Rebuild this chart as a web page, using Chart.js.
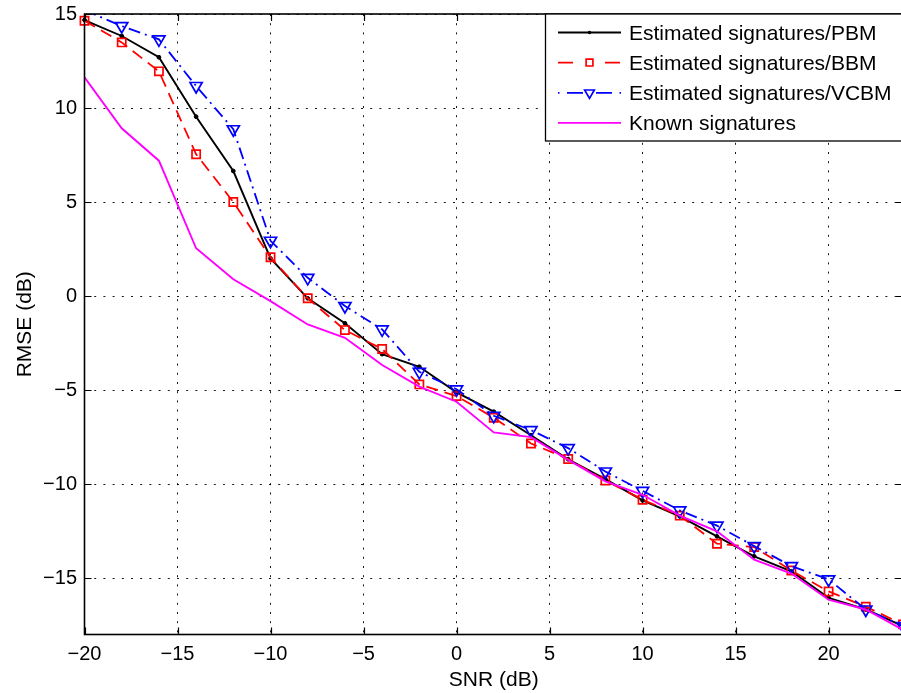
<!DOCTYPE html>
<html>
<head>
<meta charset="utf-8">
<script src="https://cdn.jsdelivr.net/npm/chart.js@4.4.1/dist/chart.umd.min.js"></script>
<style>
  html, body { margin: 0; padding: 0; background: #fff; overflow: hidden; width: 901px; height: 693px; }
  canvas { display: block; }
</style>
</head>
<body>
<canvas id="c" width="905" height="693"></canvas>
<script>
// SNR values (dB)
const snr = [-20, -18, -16, -14, -12, -10, -8, -6, -4, -2, 0, 2, 4, 6, 8, 10, 12, 14, 16, 18, 20, 22, 24];

// RMSE (dB) per method
const pbm = [14.68, 13.83, 12.70, 9.54, 6.65, 2.00, -0.12, -1.45, -3.09, -3.76, -5.12, -6.15, -7.40,
             -8.68, -9.74, -10.87, -11.72, -12.78, -13.84, -14.64, -16.05, -16.67, -17.55];
const bbm = [14.64, 13.49, 11.95, 7.54, 5.00, 2.06, -0.12, -1.81, -2.82, -4.70, -5.32, -6.47, -7.84,
             -8.67, -9.81, -10.83, -11.68, -13.17, -13.35, -14.60, -15.71, -16.52, -17.46];
const vcbm = [15.20, 14.36, 13.65, 11.17, 8.87, 2.94, 0.97, -0.53, -1.77, -4.03, -4.96, -6.37, -7.13,
              -8.09, -9.33, -10.36, -11.40, -12.21, -13.30, -14.36, -15.07, -16.67, -17.55];
const known = [11.63, 8.92, 7.20, 2.54, 0.89, -0.27, -1.51, -2.22, -3.67, -4.82, -5.62, -7.25, -7.50,
               -8.71, -9.86, -10.57, -11.68, -12.51, -14.02, -14.76, -16.15, -16.67, -17.75];

const seriesNames = ['Estimated signatures/PBM', 'Estimated signatures/BBM',
                     'Estimated signatures/VCBM', 'Known signatures'];

const xTicks = { min: -20, max: 24, step: 5 };
const yTicks = { min: -18, max: 15, step: 5 };

const FONT = "'Liberation Sans', Arial, Helvetica, sans-serif";
const pts = arr => snr.map((s, i) => ({ x: s, y: arr[i] }));
const minus = v => String(v).replace('-', '\u2212');

// marker used in the legend samples (same shapes as the plotted points)
function drawMarker(ctx, style, x, y, r, rot) {
  ctx.beginPath();
  if (style === 'circle') {
    ctx.arc(x, y, r, 0, Math.PI * 2);
    ctx.fill();
  } else if (style === 'rect') {
    const s = r * Math.SQRT1_2;
    ctx.rect(x - s, y - s, 2 * s, 2 * s);
    ctx.stroke();
  } else if (style === 'triangle') {
    const a = (rot || 0) * Math.PI / 180;
    for (let k = 0; k < 3; k++) {
      const t = a - Math.PI / 2 + k * 2 * Math.PI / 3;
      const px = x + r * Math.cos(t), py = y + r * Math.sin(t);
      if (k === 0) ctx.moveTo(px, py); else ctx.lineTo(px, py);
    }
    ctx.closePath();
    ctx.stroke();
  }
}

// axes box with inward tick marks on all four sides
const frame = {
  id: 'frame',
  afterDatasetsDraw(chart) {
    const { ctx, chartArea: a, scales: { x, y } } = chart;
    ctx.save();
    ctx.setLineDash([]);
    ctx.strokeStyle = '#000';
    ctx.lineWidth = 1.2;
    ctx.beginPath();
    x.ticks.forEach(t => {
      const p = Math.round(x.getPixelForValue(t.value)) + 0.5;
      ctx.moveTo(p, a.bottom); ctx.lineTo(p, a.bottom - 7);
      ctx.moveTo(p, a.top); ctx.lineTo(p, a.top + 7);
    });
    y.ticks.forEach(t => {
      const p = Math.round(y.getPixelForValue(t.value)) + 0.5;
      ctx.moveTo(a.left, p); ctx.lineTo(a.left + 7, p);
      ctx.moveTo(a.right, p); ctx.lineTo(a.right - 7, p);
    });
    ctx.stroke();
    ctx.lineWidth = 1.6;
    ctx.strokeRect(a.left, a.top, a.right - a.left, a.bottom - a.top);
    ctx.restore();
  }
};

// legend box in the upper right corner of the axes
const legendBox = {
  id: 'legendBox',
  afterDatasetsDraw(chart) {
    const ctx = chart.ctx;
    const a = chart.chartArea;
    const left = 545, top = a.top, bottom = 141;
    ctx.save();
    ctx.fillStyle = '#fff';
    ctx.fillRect(left, top, a.right - left + 10, bottom - top);
    ctx.strokeStyle = '#000';
    ctx.lineWidth = 1.3;
    ctx.strokeRect(left + 0.5, top, a.right - left + 10, bottom - top);

    const rowY = [32.5, 62.6, 92.8, 122.9];
    const x0 = 558, x1 = 621, xm = 589.5;
    chart.data.datasets.forEach((ds, row) => {
      const yy = rowY[row];
      ctx.strokeStyle = ds.borderColor;
      ctx.fillStyle = ds.borderColor;
      ctx.lineWidth = ds.borderWidth;
      ctx.setLineDash(ds.legendDash || []);
      ctx.lineDashOffset = 0;
      ctx.beginPath();
      ctx.moveTo(x0, yy); ctx.lineTo(x1, yy);
      ctx.stroke();
      ctx.setLineDash([]);
      if (ds.pointStyle && ds.legendMarker !== false) {
        ctx.lineWidth = ds.pointBorderWidth || 1;
        drawMarker(ctx, ds.pointStyle, xm, yy, ds.legendRadius, ds.pointRotation);
      }
      ctx.fillStyle = '#000';
      ctx.font = '21px ' + FONT;
      ctx.textAlign = 'left';
      ctx.textBaseline = 'alphabetic';
      ctx.fillText(ds.label, 629, yy + 7.5);
    });
    ctx.restore();
  }
};

new Chart(document.getElementById('c'), {
  type: 'line',
  data: {
    datasets: [
      {
        label: seriesNames[0], data: pts(pbm), order: 4, clip: false,
        borderColor: '#000000', backgroundColor: '#000000', borderWidth: 1.9,
        pointStyle: 'circle', pointRadius: 1.9, pointBackgroundColor: '#000000',
        pointBorderColor: '#000000', pointBorderWidth: 1,
        legendRadius: 1.8, legendDash: []
      },
      {
        label: seriesNames[1], data: pts(bbm), order: 3, clip: false,
        borderColor: '#ff0000', backgroundColor: 'transparent', borderWidth: 1.8,
        borderDash: [12, 7],
        pointStyle: 'rect', pointRadius: 5.8, pointBackgroundColor: 'transparent',
        pointBorderColor: '#ff0000', pointBorderWidth: 1.7,
        legendRadius: 4.8, legendDash: [15, 32]
      },
      {
        label: seriesNames[2], data: pts(vcbm), order: 2,
        borderColor: '#0000ff', backgroundColor: 'transparent', borderWidth: 1.8,
        borderDash: [12, 5, 2, 5],
        pointStyle: 'triangle', pointRotation: 180,
        pointRadius: c => (c.parsed && c.parsed.y > yTicks.max ? 0 : 7),
        pointBackgroundColor: 'transparent',
        pointBorderColor: '#0000ff', pointBorderWidth: 1.7,
        legendRadius: 5.6, legendDash: [1.5, 7.5, 16, 13, 16, 7.5, 1.5, 20]
      },
      {
        label: seriesNames[3], data: pts(known), order: 1,
        borderColor: '#ff00ff', backgroundColor: 'transparent', borderWidth: 1.9,
        pointRadius: 0, pointStyle: false, legendMarker: false, legendDash: []
      }
    ]
  },
  options: {
    responsive: false,
    animation: false,
    events: [],
    layout: { autoPadding: false, padding: { top: 14, right: 2, left: 0, bottom: 0 } },
    elements: { line: { tension: 0 } },
    plugins: {
      legend: { display: false },
      tooltip: { enabled: false }
    },
    scales: {
      x: {
        type: 'linear',
        min: xTicks.min, max: xTicks.max,
        afterFit: s => { s.height = 58.5; s.paddingLeft = 0; s.paddingRight = 0; },
        ticks: {
          stepSize: xTicks.step, includeBounds: false, padding: 8,
          color: '#000', font: { family: FONT, size: 20 },
          callback: v => minus(v)
        },
        grid: { color: 'rgba(0,0,0,0.9)', lineWidth: 1, drawTicks: false },
        border: { display: false, dash: [2, 7.2] },
        title: {
          display: true, text: 'SNR (dB)', color: '#000',
          font: { family: FONT, size: 21 }, padding: { top: 0, bottom: 0 }
        }
      },
      y: {
        type: 'linear',
        min: yTicks.min, max: yTicks.max,
        afterFit: s => { s.width = 84.5; s.paddingTop = 0; s.paddingBottom = 0; },
        ticks: {
          stepSize: yTicks.step, includeBounds: false, padding: 7.5,
          color: '#000', font: { family: FONT, size: 20 },
          callback: v => minus(v)
        },
        grid: { color: 'rgba(0,0,0,0.9)', lineWidth: 1, drawTicks: false },
        border: { display: false, dash: [2, 7.2] },
        title: {
          display: true, text: 'RMSE (dB)', color: '#000',
          font: { family: FONT, size: 21 }, padding: { top: 12.4, bottom: 0 }
        }
      }
    }
  },
  plugins: [frame, legendBox]
});
</script>
</body>
</html>
